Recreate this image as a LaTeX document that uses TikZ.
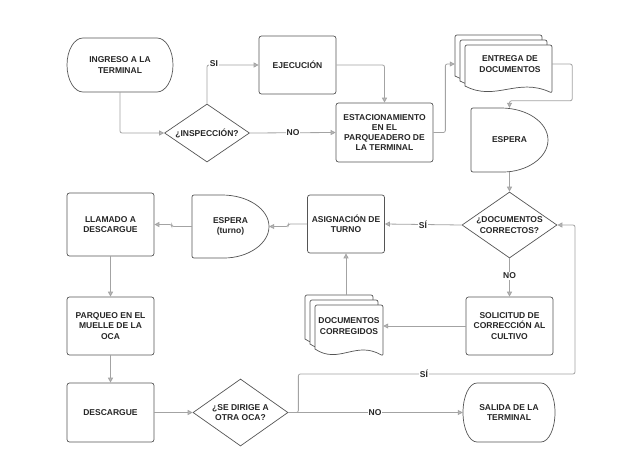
\documentclass[tikz,border=0pt]{standalone}
\usepackage{fontspec}
\setmainfont{Liberation Sans}
\usetikzlibrary{arrows.meta,shapes.geometric,calc}
\definecolor{shapec}{HTML}{555555}
\definecolor{linec}{HTML}{A3A3A3}
\definecolor{txtc}{HTML}{262626}
\begin{document}
\begin{tikzpicture}[x=1pt,y=1pt,
  every node/.style={font=\fontsize{8.5}{10.3}\selectfont\bfseries, text=txtc, align=center, inner sep=0pt},
  shp/.style={draw=shapec, line width=0.7pt, fill=white},
  box/.style={shp, rectangle, rounded corners=2.5pt},
  dia/.style={shp, diamond, aspect=1.4},
  ghost/.style={rectangle, draw=none},
  conn/.style={draw=linec, line width=0.8pt, rounded corners=2pt, -{Triangle[length=5pt,width=5pt,fill=linec!75]}},
  lbl/.style={fill=white, inner sep=1pt}
]
\fill[white] (0,0) rectangle (631,-466);
\useasboundingbox (0,0) rectangle (631,-466);

% ---- shapes drawn as paths ----
% terminals
\draw[shp] (83,-38) -- (157,-38) arc[start angle=90,end angle=-90,x radius=16,y radius=27] -- (83,-92) arc[start angle=270,end angle=90,x radius=16,y radius=27] -- cycle;
\draw[shp] (477,-383) -- (541,-383) arc[start angle=90,end angle=-90,x radius=14,y radius=29.5] -- (477,-442) arc[start angle=270,end angle=90,x radius=14,y radius=29.5] -- cycle;
% delays
\draw[shp, rounded corners=2pt] (501,-108) -- (471,-108) -- (471,-172) -- (501,-172) [sharp corners] arc[start angle=-90,end angle=90,x radius=47,y radius=32] -- cycle;
\draw[shp, rounded corners=2pt] (222,-195) -- (192,-195) -- (192,-258) -- (222,-258) [sharp corners] arc[start angle=-90,end angle=90,x radius=47,y radius=31.5] -- cycle;
% multi-documents
\foreach \L/\T/\R/\B in {455/35/542/83, 460/40/547/88, 465/45/552/93, 305/295/373/346, 310/300/378/351, 315/305/383/356}{
  \draw[shp] (\R,-\B) .. controls ({\L+0.6*(\R-\L)},{-\B+16}) and ({\L+0.35*(\R-\L)},{-\B-9}) .. (\L,{-\B+7}) [rounded corners=2pt] -- (\L,-\T) -- (\R,-\T) -- cycle;
}

% ---- nodes ----
\node[ghost, minimum width=106pt, minimum height=54pt] (ingreso) at (120,-65) {INGRESO A LA\\TERMINAL};
\node[dia, minimum width=85pt, minimum height=58pt] (insp) at (207,-133) {¿INSPECCIÓN?};
\node[box, minimum width=77pt, minimum height=58pt] (ejec) at (297.5,-65) {EJECUCIÓN};
\node[box, minimum width=97pt, minimum height=59pt] (estac) at (384.5,-132.5) {ESTACIONAMIENTO\\EN EL\\PARQUEADERO DE\\LA TERMINAL};
\node[ghost, minimum width=97pt, minimum height=58pt] (entrega) at (503.5,-64) {};
\node (entregaT) at (510,-64) {ENTREGA DE\\DOCUMENTOS};
\node[ghost, minimum width=77pt, minimum height=64pt] (espera) at (509.5,-140) {ESPERA};
\node[dia, minimum width=95pt, minimum height=66pt] (docs) at (509.5,-225) {¿DOCUMENTOS\\CORRECTOS?};
\node[box, minimum width=77pt, minimum height=58pt] (asig) at (346,-224) {ASIGNACIÓN DE\\TURNO};
\node[box, minimum width=87pt, minimum height=58pt] (solic) at (509.5,-326) {SOLICITUD DE\\CORRECCIÓN AL\\CULTIVO};
\node[ghost, minimum width=78pt, minimum height=61pt] (corr) at (344,-325.5) {};
\node (corrT) at (349,-326) {DOCUMENTOS\\CORREGIDOS};
\node[ghost, minimum width=77pt, minimum height=63pt] (espera2) at (230.5,-226.5) {ESPERA\\(turno)};
\node[box, minimum width=87pt, minimum height=63pt] (llam) at (110.5,-224.5) {LLAMADO A\\DESCARGUE};
\node[box, minimum width=87pt, minimum height=58pt] (parq) at (110.5,-326) {PARQUEO EN EL\\MUELLE DE LA\\OCA};
\node[box, minimum width=87pt, minimum height=59pt] (desc) at (110.5,-412.5) {DESCARGUE};
\node[dia, minimum width=95pt, minimum height=67pt] (dirige) at (240.5,-412.5) {¿SE DIRIGE A\\OTRA OCA?};
\node[ghost, minimum width=92pt, minimum height=59pt] (salida) at (509,-412.5) {SALIDA DE LA\\TERMINAL};
\coordinate (loopR) at (575,-374);

% ---- connectors ----
\draw[conn] (ingreso.south) |- (insp.west);
\draw[conn] (insp.north) |- (ejec.west);
\draw[conn] (insp.east) -- (estac.west);
\draw[conn] (ejec.east) -| (estac.north);
\draw[conn] (estac.east) -- ++(12,0) |- (entrega.west);
\draw[conn] (entrega.east) -- ++(20,0) |- ($(espera.north)+(0,7)$) -- (espera.north);
\draw[conn] (espera.south) -- (docs.north);
\draw[conn] (docs.west) -- (asig.east);
\draw[conn] (docs.south) -- (solic.north);
\draw[conn] (solic.west) -- (solic.west -| corr.east);
\draw[conn] (corr.north -| asig.south) -- (asig.south);
\draw[conn] (asig.west) -- ++(-19,0) |- (espera2.east);
\draw[conn] (espera2.west) -- ++(-20,0) |- (llam.east);
\draw[conn] (llam.south) -- (parq.north);
\draw[conn] (parq.south) -- (desc.north);
\draw[conn] (desc.east) -- (dirige.west);
\draw[conn] (dirige.east) -- (salida.west);
\draw[conn] (dirige.east) -- ++(10,0) |- (loopR) |- (docs.east);

% ---- labels ----
\node[lbl] (lSI) at (214,-64) {SI};
\node[lbl] (lNO1) at (293,-133) {NO};
\node[lbl] (lSI2) at (423,-225) {SÍ};
\node[lbl] (lNO2) at (509.5,-276) {NO};
\node[lbl] (lSI3) at (424,-374) {SÍ};
\node[lbl] (lNO3) at (375,-412.5) {NO};
\end{tikzpicture}
\end{document}
